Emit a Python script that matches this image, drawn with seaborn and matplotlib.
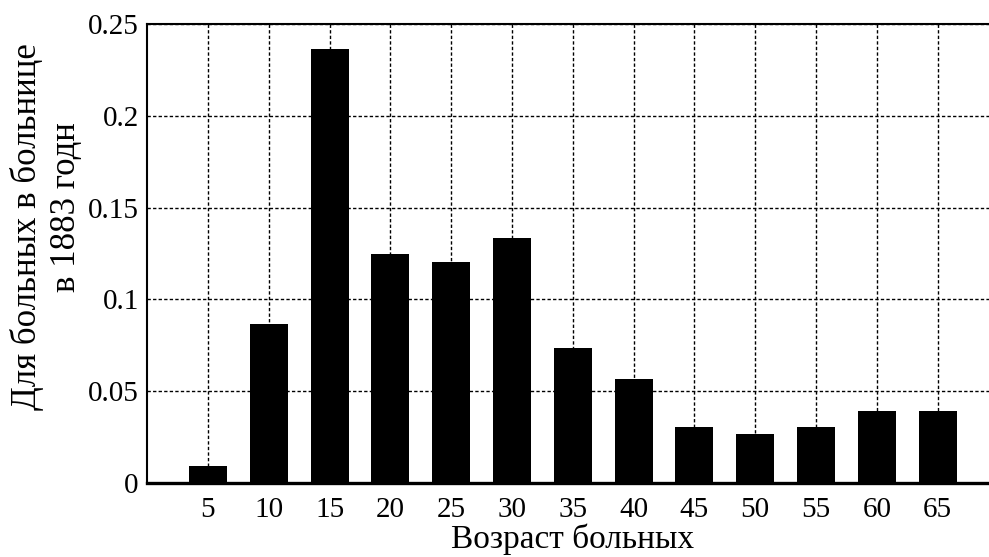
import matplotlib
matplotlib.use("Agg")
import matplotlib.pyplot as plt
import seaborn as sns
import numpy as np

# Age groups of patients and their share in the hospital (1883)
ages = [5, 10, 15, 20, 25, 30, 35, 40, 45, 50, 55, 60, 65]
shares = [0.0093, 0.0864, 0.2362, 0.1247, 0.1205, 0.1336, 0.0735,
          0.0568, 0.0307, 0.0265, 0.0307, 0.0394, 0.0394]
y_ticks = [0, 0.05, 0.1, 0.15, 0.2, 0.25]
y_tick_labels = ["0", "0.05", "0.1", "0.15", "0.2", "0.25"]

sns.set_theme(style="white")
plt.rcParams["font.family"] = ["Liberation Serif", "DejaVu Serif"]

W, H = 989, 557
fig = plt.figure(figsize=(W / 100, H / 100), dpi=100)
left_px, top_px, bottom_px = 147.2, 24.0, 483.0
xspan = 70 * 12.16
ax_h = bottom_px - top_px
ax = fig.add_axes([left_px / W, (H - bottom_px) / H, xspan / W, ax_h / H])

sns.barplot(x=ages, y=shares, native_scale=True, width=0.625, color="black",
            saturation=1, linewidth=0, ax=ax, zorder=3)

ax.set_xlim(0, 70)
ax.set_ylim(0, 0.25)
ax.set_xticks(ages)
ax.set_xticklabels([str(a) for a in ages])
ax.set_yticks(y_ticks)
ax.set_yticklabels(y_tick_labels)

ax.grid(True, color="black", linestyle=(0, (2.4, 1.6)), linewidth=1.0, zorder=1)
ax.set_axisbelow(True)

ax.tick_params(axis="both", length=0, labelsize=21, colors="black")
ax.tick_params(axis="y", pad=6)
ax.tick_params(axis="x", pad=10)

for side in ["top", "left", "bottom", "right"]:
    ax.spines[side].set_color("black")
ax.spines["top"].set_linewidth(1.5)
ax.spines["left"].set_linewidth(1.5)
ax.spines["bottom"].set_linewidth(2.4)
ax.spines["right"].set_linewidth(1.5)

ax.set_xlabel("Возраст больных", fontsize=24, color="black")
ax.xaxis.label.set_va("baseline")
ax.xaxis.set_label_coords(0.5, -(548 - bottom_px) / ax_h)
ax.set_ylabel("")

# two-line y-axis caption
fig.text(27 / W, 1 - 227 / H, "Для больных в больнице", rotation=90, fontsize=25,
         ha="center", va="center", color="black")
fig.text(66 / W, 1 - 207 / H, "в 1883 годн", rotation=90, fontsize=25,
         ha="center", va="center", color="black")

fig.savefig("out.png", dpi=100, facecolor="white")
